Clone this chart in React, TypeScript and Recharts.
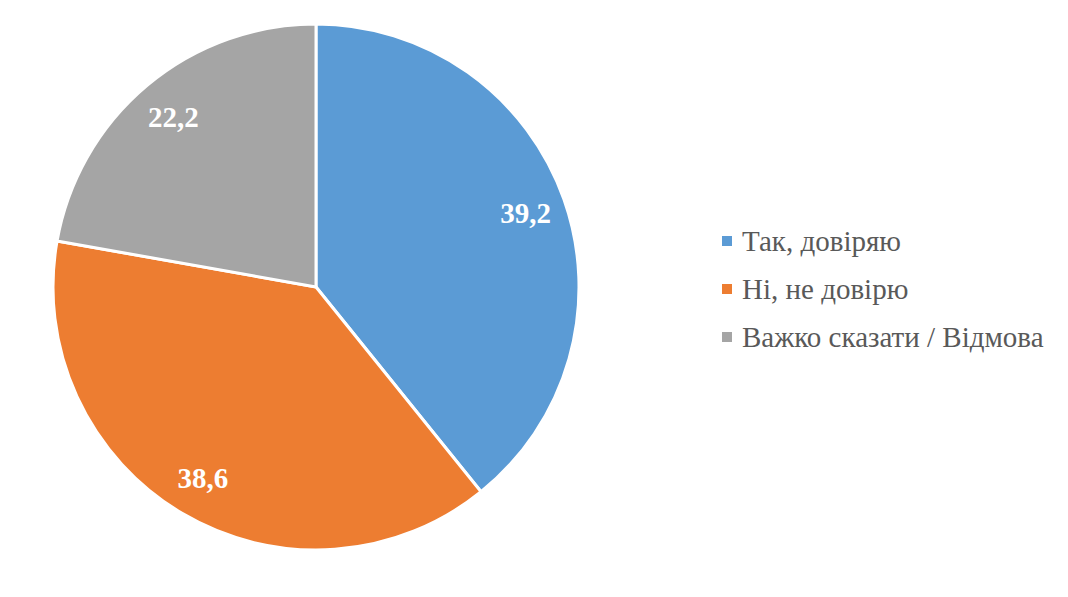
import { Cell, Pie, PieChart } from "recharts";

const categories = ["Так, довіряю", "Ні, не довірю", "Важко сказати / Відмова"];
const values = [39.2, 38.6, 22.2];
const colors = ["#5B9BD5", "#ED7D31", "#A5A5A5"];

const data = categories.map((name, i) => ({ name, value: values[i] }));

const RAD = Math.PI / 180;
const serif = "'Liberation Serif', 'Times New Roman', serif";

function renderLabel(props: any) {
  const { cx, cy, midAngle, outerRadius, value } = props;
  const r = outerRadius * 0.845;
  const x = cx + r * Math.cos(-midAngle * RAD);
  const y = cy + r * Math.sin(-midAngle * RAD);
  return (
    <text
      x={x}
      y={y}
      fill="#fff"
      textAnchor="middle"
      dominantBaseline="central"
      fontFamily={serif}
      fontWeight="bold"
      fontSize={29}
    >
      {String(value).replace(".", ",")}
    </text>
  );
}

function LegendBox() {
  return (
    <div style={{ position: "absolute", left: 722, top: 217, fontFamily: serif }}>
      {data.map((d, i) => (
        <div key={d.name} style={{ display: "flex", alignItems: "center", height: 48 }}>
          <div style={{ width: 10, height: 10, flexShrink: 0, background: colors[i], marginRight: 10 }} />
          <span style={{ fontSize: 29, color: "#595959", whiteSpace: "nowrap" }}>{d.name}</span>
        </div>
      ))}
    </div>
  );
}

export default function App() {
  return (
    <div style={{ position: "absolute", left: 0, top: 0, width: 1068, height: 597, background: "#fff" }}>
      <PieChart width={1068} height={597} margin={{ top: 0, right: 0, bottom: 0, left: 0 }}>
        <Pie
          data={data}
          dataKey="value"
          nameKey="name"
          cx={316}
          cy={287}
          outerRadius={263}
          startAngle={90}
          endAngle={-270}
          stroke="#fff"
          strokeWidth={3}
          label={renderLabel}
          labelLine={false}
          isAnimationActive={false}
        >
          {data.map((d, i) => (
            <Cell key={d.name} fill={colors[i]} />
          ))}
        </Pie>
      </PieChart>
      <LegendBox />
    </div>
  );
}
